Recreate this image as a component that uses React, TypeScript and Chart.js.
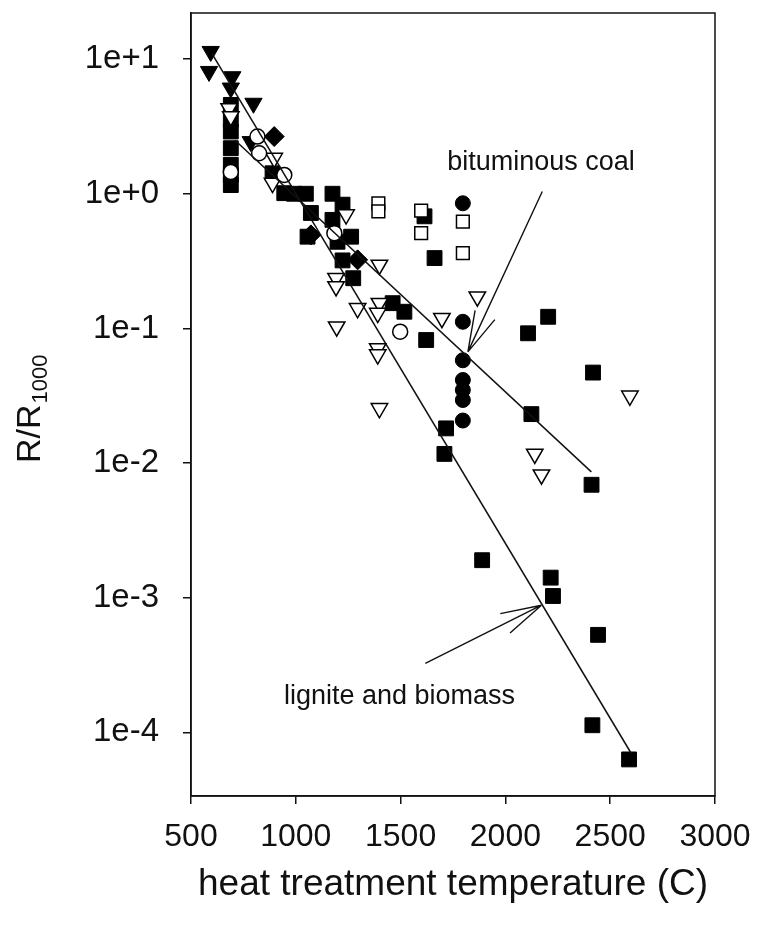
import React, { useEffect, useRef } from 'react';
import { Chart, registerables } from 'chart.js';

Chart.register(...registerables);

// ---- data (heat treatment temperature in C, R/R1000) ----
const filledDownTriT = [594, 586, 697, 690, 798, 785];
const filledDownTriR = [11.4, 8.1, 7.4, 6.1, 4.7, 2.44];

const openDownTriT = [682, 690, 897, 889, 1240, 1399, 1192, 1192, 1295, 1399, 1391, 1195, 1391, 1391, 1399, 1697, 1866, 2594, 2140, 2172];
const openDownTriR = [4.3, 3.75, 1.84, 1.2, 0.7, 0.296, 0.236, 0.205, 0.141, 0.154, 0.13, 0.103, 0.071, 0.064, 0.0255, 0.119, 0.172, 0.0316, 0.0117, 0.0082];

const filledSquareT = [690, 690, 690, 690, 690, 690, 690, 889, 945, 992, 1048, 1175, 1223, 1072, 1175, 1056, 1264, 1199, 1223, 1274, 1462, 1518, 1622, 1662, 1614, 1717, 1709, 2108, 2204, 2418, 2124, 2411, 1889, 2216, 2227, 2442, 2415, 2590];
const filledSquareR = [4.57, 3.54, 2.9, 2.18, 1.64, 1.38, 1.16, 1.42, 1.01, 1.0, 1.0, 1.0, 0.83, 0.72, 0.64, 0.48, 0.48, 0.44, 0.32, 0.236, 0.154, 0.133, 0.082, 0.333, 0.68, 0.0181, 0.0117, 0.092, 0.122, 0.047, 0.0231, 0.0069, 0.0019, 0.00141, 0.00103, 0.00053, 0.000113, 0.000063];

const openSquareT = [1394, 1394, 1598, 1598, 1797, 1797];
const openSquareR = [0.85, 0.74, 0.75, 0.51, 0.62, 0.362];

const filledCircleT = [1797, 1797, 1797, 1797, 1797, 1797, 1797];
const filledCircleR = [0.85, 0.112, 0.058, 0.0414, 0.0349, 0.0294, 0.0207];

const openCircleT = [817, 825, 945, 1184, 1498, 690];
const openCircleR = [2.66, 2.0, 1.38, 0.51, 0.0946, 1.45];

const diamondT = [897, 1072, 1295];
const diamondR = [2.66, 0.495, 0.323];

// fit lines
const ligniteLineT = [600, 2600];
const ligniteLineR = [11.0, 0.00007];
const bituminousLineT = [710, 2410];
const bituminousLineR = [2.5, 0.0086];

// annotation arrows [tail, tip]
const bitArrowT = [2176, 1821];
const bitArrowR = [1.04, 0.067];
const ligArrowT = [1618, 2172];
const ligArrowR = [0.000326, 0.00088];

const bitLabel = 'bituminous coal';
const ligLabel = 'lignite and biomass';

// axes
const xTickValues = [500, 1000, 1500, 2000, 2500, 3000];
const yTickValues = [1e-4, 1e-3, 1e-2, 1e-1, 1e0, 1e1];
const yTickLabels = ['1e-4', '1e-3', '1e-2', '1e-1', '1e+0', '1e+1'];
const xTitle = 'heat treatment temperature (C)';
const yTitleMain = 'R/R';
const yTitleSub = '1000';

const FONT = '"Liberation Sans", Arial, Helvetica, sans-serif';
const INK = '#111';

const pts = (xs: number[], ys: number[]) => xs.map((x, i) => ({ x, y: ys[i] }));

const overlayPlugin = {
  id: 'overlay',
  afterDatasetsDraw(chart: any) {
    const { ctx, chartArea, scales } = chart;
    const xs = scales.x;
    const ys = scales.y;
    ctx.save();
    // frame
    ctx.strokeStyle = INK;
    ctx.lineWidth = 1.5;
    ctx.strokeRect(chartArea.left, chartArea.top, chartArea.right - chartArea.left, chartArea.bottom - chartArea.top);

    const arrow = (T: number[], R: number[]) => {
      const x1 = xs.getPixelForValue(T[0]);
      const y1 = ys.getPixelForValue(R[0]);
      const x2 = xs.getPixelForValue(T[1]);
      const y2 = ys.getPixelForValue(R[1]);
      ctx.beginPath();
      ctx.moveTo(x1, y1);
      ctx.lineTo(x2, y2);
      const ang = Math.atan2(y1 - y2, x1 - x2);
      const len = 42;
      const spread = (15 * Math.PI) / 180;
      for (const s of [-1, 1]) {
        ctx.moveTo(x2, y2);
        ctx.lineTo(x2 + len * Math.cos(ang + s * spread), y2 + len * Math.sin(ang + s * spread));
      }
      ctx.lineWidth = 1.4;
      ctx.strokeStyle = INK;
      ctx.stroke();
    };
    arrow(bitArrowT, bitArrowR);
    arrow(ligArrowT, ligArrowR);

    ctx.fillStyle = INK;
    ctx.font = `27px ${FONT}`;
    ctx.textAlign = 'center';
    ctx.textBaseline = 'middle';
    ctx.fillText(bitLabel, xs.getPixelForValue(2170), ys.getPixelForValue(1.7));
    ctx.fillText(ligLabel, xs.getPixelForValue(1495), ys.getPixelForValue(0.000186));
    ctx.restore();
  },
  afterDraw(chart: any) {
    const { ctx } = chart;
    ctx.save();
    ctx.fillStyle = INK;
    ctx.translate(40, 463);
    ctx.rotate(-Math.PI / 2);
    ctx.textAlign = 'left';
    ctx.textBaseline = 'alphabetic';
    ctx.font = `34px ${FONT}`;
    ctx.fillText(yTitleMain, 0, 0);
    const w = ctx.measureText(yTitleMain).width;
    ctx.font = `22px ${FONT}`;
    ctx.fillText(yTitleSub, w + 1, 7);
    ctx.restore();
  },
};

export default function App() {
  const ref = useRef<HTMLCanvasElement>(null);
  useEffect(() => {
    document.body.style.margin = '0';
    const canvas = ref.current!;
    const markerBase = { showLine: false, borderColor: '#000' };
    const chart = new Chart(canvas.getContext('2d')!, {
      type: 'scatter',
      data: {
        datasets: [
          {
            label: 'lignite fit',
            data: pts(ligniteLineT, ligniteLineR),
            showLine: true,
            pointRadius: 0,
            borderColor: INK,
            borderWidth: 1.5,
          },
          {
            label: 'bituminous fit',
            data: pts(bituminousLineT, bituminousLineR),
            showLine: true,
            pointRadius: 0,
            borderColor: INK,
            borderWidth: 1.5,
          },
          {
            ...markerBase,
            label: 'open circles',
            data: pts(openCircleT, openCircleR),
            pointStyle: 'circle',
            pointRadius: 7.5,
            backgroundColor: '#fff',
            borderWidth: 1.5,
          },
          {
            ...markerBase,
            label: 'filled circles',
            data: pts(filledCircleT, filledCircleR),
            pointStyle: 'circle',
            pointRadius: 7.5,
            backgroundColor: '#000',
            borderWidth: 1,
          },
          {
            ...markerBase,
            label: 'open squares',
            data: pts(openSquareT, openSquareR),
            pointStyle: 'rect',
            pointRadius: 9,
            backgroundColor: '#fff',
            borderWidth: 1.5,
          },
          {
            ...markerBase,
            label: 'open down triangles',
            data: pts(openDownTriT, openDownTriR),
            pointStyle: 'triangle',
            rotation: 180,
            pointRadius: 9.5,
            backgroundColor: '#fff',
            borderWidth: 1.5,
          },
          {
            ...markerBase,
            label: 'diamonds',
            data: pts(diamondT, diamondR),
            pointStyle: 'rectRot',
            pointRadius: 10,
            backgroundColor: '#000',
            borderWidth: 1,
          },
          {
            ...markerBase,
            label: 'filled squares',
            data: pts(filledSquareT, filledSquareR),
            pointStyle: 'rect',
            pointRadius: 10.5,
            backgroundColor: '#000',
            borderWidth: 1,
          },
          {
            ...markerBase,
            label: 'filled down triangles',
            data: pts(filledDownTriT, filledDownTriR),
            pointStyle: 'triangle',
            rotation: 180,
            pointRadius: 10,
            backgroundColor: '#000',
            borderWidth: 1,
          },
        ],
      },
      options: {
        responsive: false,
        animation: false,
        devicePixelRatio: 1,
        layout: { padding: { left: 0, right: 42, top: 13, bottom: 0 } },
        plugins: { legend: { display: false }, tooltip: { enabled: false } },
        scales: {
          x: {
            type: 'linear',
            min: 500,
            max: 3000,
            afterBuildTicks: (s: any) => {
              s.ticks = xTickValues.map((v) => ({ value: v }));
            },
            afterFit: (s: any) => {
              s.height = 130;
              s.paddingLeft = 0;
              s.paddingRight = 0;
              s.paddingTop = 0;
              s.paddingBottom = 0;
            },
            grid: { display: true, drawOnChartArea: false, drawTicks: true, tickLength: 8, color: INK, lineWidth: 1.5 },
            border: { display: true, color: INK, width: 1.5 },
            ticks: {
              autoSkip: false,
              maxRotation: 0,
              padding: 14,
              color: INK,
              font: { family: FONT, size: 32 },
              callback: (v: any) => String(v),
            },
            title: {
              display: true,
              text: xTitle,
              color: INK,
              font: { family: FONT, size: 37 },
              padding: { top: 0, bottom: 19 },
            },
          },
          y: {
            type: 'logarithmic',
            min: 3.37e-5,
            max: 22,
            afterBuildTicks: (s: any) => {
              s.ticks = yTickValues.map((v) => ({ value: v }));
            },
            afterFit: (s: any) => {
              s.width = 191;
              s.paddingLeft = 0;
              s.paddingRight = 0;
              s.paddingTop = 0;
              s.paddingBottom = 0;
            },
            grid: { display: true, drawOnChartArea: false, drawTicks: true, tickLength: 8, color: INK, lineWidth: 1.5 },
            border: { display: true, color: INK, width: 1.5 },
            ticks: {
              autoSkip: false,
              padding: 24,
              color: INK,
              font: { family: FONT, size: 33 },
              callback: (_v: any, i: number) => yTickLabels[i],
            },
          },
        },
      },
      plugins: [overlayPlugin],
    } as any);
    return () => chart.destroy();
  }, []);
  return (
    <div style={{ width: 757, height: 926 }}>
      <canvas ref={ref} width={757} height={926} style={{ display: 'block' }} />
    </div>
  );
}
